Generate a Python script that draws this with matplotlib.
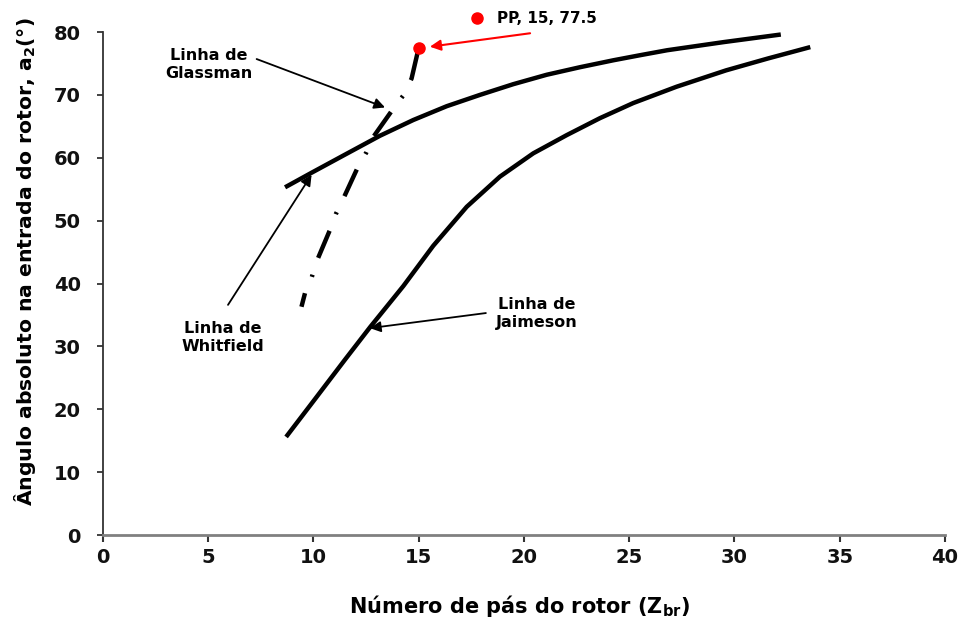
import numpy as np
import matplotlib.pyplot as plt

plt.rcParams['font.family'] = ['DejaVu Sans']
plt.rcParams['font.weight'] = 'bold'
plt.rcParams['axes.labelweight'] = 'bold'
plt.rcParams['mathtext.fontset'] = 'custom'
plt.rcParams['mathtext.rm'] = 'DejaVu Sans:bold'
plt.rcParams['mathtext.it'] = 'DejaVu Sans:bold'
plt.rcParams['mathtext.bf'] = 'DejaVu Sans:bold'

# Linha de Whitfield
whit_x = [8.65, 9.9, 11.5, 13.16, 14.74, 16.33, 17.91, 19.49, 21.08, 22.66, 24.24, 25.5, 26.8, 29.5, 32.2]
whit_y = [55.3, 57.6, 60.5, 63.5, 66.0, 68.2, 70.0, 71.7, 73.2, 74.4, 75.5, 76.3, 77.1, 78.4, 79.6]

# Linha de Jaimeson
jaim_x = [8.7, 10.0, 11.5, 12.7, 14.27, 15.69, 17.28, 18.86, 20.44, 22.03, 23.61, 25.19, 27.25, 29.6, 31.6, 33.6]
jaim_y = [15.6, 21.3, 27.9, 33.1, 39.6, 46.0, 52.2, 57.0, 60.7, 63.6, 66.3, 68.7, 71.3, 73.9, 75.8, 77.6]

# Linha de Glassman
glass_x = [9.43, 9.6, 9.9, 10.15, 10.78, 11.07, 11.46, 12.08, 12.52, 12.84, 13.79, 14.31, 14.66, 15.0]
glass_y = [36.3, 38.5, 40.8, 43.5, 48.5, 51.1, 53.8, 58.3, 60.9, 63.3, 67.8, 70.1, 72.6, 77.5]

# ponto de projeto
pp_x = [15]
pp_y = [77.5]

fig = plt.figure(figsize=(9.64, 6.19), dpi=100)
ax = fig.add_axes([0.1068, 0.1357, 0.8735, 0.8126])

ax.plot(whit_x, whit_y, color='black', lw=3.2, solid_capstyle='butt')
ax.plot(jaim_x, jaim_y, color='black', lw=3.2, solid_capstyle='butt')
ax.plot(glass_x, glass_y, color='black', lw=3.2, dash_capstyle='butt',
        linestyle=(3.45, (6.6, 4, 0.5, 4)))
ax.plot(pp_x, pp_y, 'o', color='#ff0000', ms=8, label='PP, 15, 77.5', zorder=5)

ax.set_xlim(0, 40)
ax.set_ylim(0, 80)
ax.set_xticks(np.arange(0, 41, 5))
ax.set_yticks(np.arange(0, 81, 10))

for s in ['top', 'right']:
    ax.spines[s].set_visible(False)
ax.spines['bottom'].set_color('#808080')
ax.spines['bottom'].set_linewidth(2)
ax.spines['left'].set_color('#333333')
ax.spines['left'].set_linewidth(1.3)
ax.tick_params(axis='x', direction='out', length=5, width=1.5, color='#333333',
               labelsize=14, pad=4, labelcolor='#111111')
ax.tick_params(axis='y', direction='out', length=4, width=1.3, color='#333333',
               labelsize=14, pad=12, labelcolor='#111111')

ax.set_xlabel(r'Número de pás do rotor (Z$_{\mathrm{br}}$)', fontsize=15, va='center')
ax.xaxis.set_label_coords(0.495, -0.141)
ax.set_ylabel(r'Ângulo absoluto na entrada do rotor, a$_{\mathrm{2}}$(°)', fontsize=14.7, va='center')
ax.yaxis.set_label_coords(-0.093, 0.544)

leg = ax.legend(loc='center left', bbox_to_anchor=(0.435, 1.026), frameon=False,
                handlelength=1, handletextpad=0.8, borderpad=0, borderaxespad=0,
                fontsize=11)

arr = dict(arrowstyle='-|>', color='black', lw=1.3, mutation_scale=16, shrinkA=0, shrinkB=0)
ax.text(5.04, 74.9, 'Linha de\nGlassman', ha='center', va='center', fontsize=11.5, linespacing=1.25)
ax.annotate('', xy=(13.4, 68.0), xytext=(7.3, 75.7), arrowprops=arr)
ax.text(5.7, 31.4, 'Linha de\nWhitfield', ha='center', va='center', fontsize=11.5, linespacing=1.25)
ax.annotate('', xy=(9.91, 57.3), xytext=(5.94, 36.6), arrowprops=arr)
ax.text(20.62, 35.15, 'Linha de\nJaimeson', ha='center', va='center', fontsize=11.5, linespacing=1.25)
ax.annotate('', xy=(12.68, 32.9), xytext=(18.19, 35.3), arrowprops=arr)

red_arr = dict(arrowstyle='-|>', color='#ff0000', lw=1.5, mutation_scale=16, shrinkA=0, shrinkB=0)
ax.annotate('', xy=(15.53, 77.66), xytext=(20.29, 79.8), arrowprops=red_arr, annotation_clip=False)

fig.savefig('out.png', dpi=100)
